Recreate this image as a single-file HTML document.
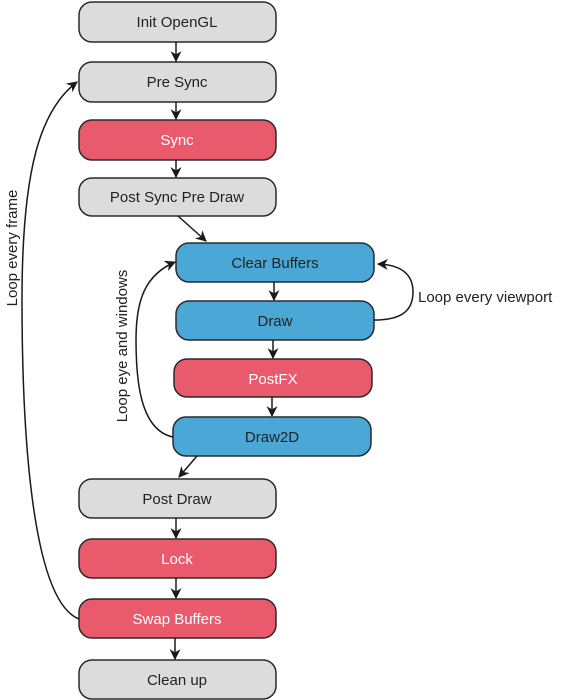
<!DOCTYPE html>
<html><head><meta charset="utf-8"><style>
html,body{margin:0;padding:0;background:#fff;}
svg{display:block;}
text{font-family:"Liberation Sans",sans-serif;font-size:15px;}
</style></head><body>
<svg width="562" height="700" viewBox="0 0 562 700" xmlns="http://www.w3.org/2000/svg">
<defs>
<marker id="a" viewBox="0 0 10 10" refX="9" refY="5" markerWidth="11" markerHeight="11" orient="auto" markerUnits="userSpaceOnUse">
<path d="M0,0 L10,5 L0,10 L3,5 Z" fill="#1a1a1a"/>
</marker>
</defs>
<g stroke="#2a2a2a" stroke-width="1.5">
<rect x="79" y="2" width="197" height="40" rx="13" fill="#dcdcdc"/>
<rect x="79" y="62" width="197" height="40" rx="13" fill="#dcdcdc"/>
<rect x="79" y="120" width="197" height="40" rx="13" fill="#e95b6c"/>
<rect x="79" y="178" width="197" height="38" rx="13" fill="#dcdcdc"/>
<rect x="176" y="243" width="198" height="39" rx="13" fill="#4ba8d6"/>
<rect x="176" y="301" width="198" height="39" rx="13" fill="#4ba8d6"/>
<rect x="174" y="359" width="198" height="38" rx="13" fill="#e95b6c"/>
<rect x="173" y="417" width="198" height="39" rx="13" fill="#4ba8d6"/>
<rect x="79" y="479" width="197" height="39" rx="13" fill="#dcdcdc"/>
<rect x="79" y="539" width="197" height="39" rx="13" fill="#e95b6c"/>
<rect x="79" y="599" width="197" height="39" rx="13" fill="#e95b6c"/>
<rect x="79" y="660" width="197" height="39" rx="13" fill="#dcdcdc"/>
</g>
<g stroke="#1a1a1a" stroke-width="1.5" fill="none" marker-end="url(#a)">
<line x1="176" y1="42" x2="176" y2="61"/>
<line x1="176" y1="102" x2="176" y2="119"/>
<line x1="176" y1="160" x2="176" y2="177"/>
<line x1="178" y1="216" x2="206" y2="241"/>
<line x1="274" y1="282" x2="274" y2="300"/>
<line x1="273" y1="340" x2="273" y2="358"/>
<line x1="272" y1="397" x2="272" y2="416"/>
<line x1="197" y1="456" x2="179" y2="477"/>
<line x1="176" y1="518" x2="176" y2="538"/>
<line x1="176" y1="578" x2="176" y2="598"/>
<line x1="175" y1="638" x2="175" y2="659"/>
<path d="M79,619 C30,600 22,420 22,300 C22,170 40,110 77,82"/>
<path d="M173,437 C140,430 136,380 136,340 C136,300 145,275 175,262"/>
<path d="M374,320 C400,320 413,312 413,292 C413,273 400,265 378,264"/>
</g>
<g text-anchor="middle" fill="#222">
<text x="177" y="27">Init OpenGL</text>
<text x="177" y="87">Pre Sync</text>
<text x="177" y="145" fill="#fff">Sync</text>
<text x="177" y="202">Post Sync Pre Draw</text>
<text x="275" y="268">Clear Buffers</text>
<text x="275" y="326">Draw</text>
<text x="273" y="384" fill="#fff">PostFX</text>
<text x="272" y="442">Draw2D</text>
<text x="177" y="504">Post Draw</text>
<text x="177" y="564" fill="#fff">Lock</text>
<text x="177" y="624" fill="#fff">Swap Buffers</text>
<text x="177" y="685">Clean up</text>
<text transform="translate(17,248) rotate(-90)">Loop every frame</text>
<text transform="translate(127,346) rotate(-90)">Loop eye and windows</text>
</g>
<text x="418" y="302" fill="#222">Loop every viewport</text>
</svg>
</body></html>
